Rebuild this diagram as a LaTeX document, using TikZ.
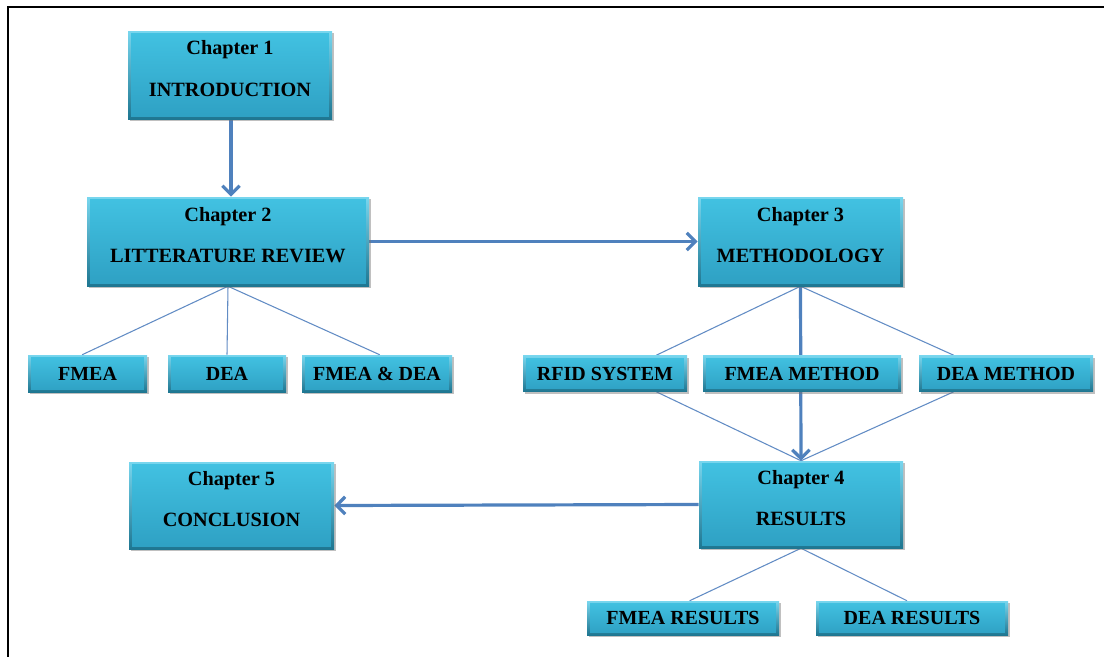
\documentclass[tikz,border=0pt]{standalone}
\usepackage{fontspec}
\setmainfont{Liberation Serif}
\usetikzlibrary{arrows.meta,shadows,backgrounds}
\definecolor{bevellight}{RGB}{120,214,238}
\definecolor{beveldark}{RGB}{30,118,145}
\definecolor{bodytop}{RGB}{66,194,226}
\definecolor{bodybot}{RGB}{46,160,195}
\definecolor{arrowblue}{RGB}{79,129,189}
\definecolor{thinblue}{RGB}{98,140,196}
\tikzset{
  cbox/.style={inner sep=0pt, align=center, text=black,
    top color=bevellight, bottom color=beveldark,
    drop shadow={shadow xshift=1.6pt, shadow yshift=-1.8pt, opacity=0.45, fill=black!55},
    path picture={\shade[top color=bodytop, bottom color=bodybot]
      ([shift={(2.4pt,-2.2pt)}]path picture bounding box.north west) rectangle
      ([shift={(-2.4pt,2.0pt)}]path picture bounding box.south east);}},
  chap/.style={cbox, font=\fontsize{15.2pt}{18pt}\selectfont\bfseries},
  sbox/.style={cbox, font=\fontsize{15pt}{17pt}\selectfont\bfseries},
  bigarrow/.style={draw=arrowblue, line width=2.4pt, -{Straight Barb[length=6.5pt,width=13pt]}},
  thinline/.style={draw=thinblue, line width=0.8pt},
  frameline/.style={draw=black, line width=1.6pt}
}
\begin{document}
\begin{tikzpicture}[x=0.75pt,y=-0.75pt]
\useasboundingbox (0,0) rectangle (1104,657);
\draw[frameline] (8,657) -- (8,7) -- (1104,7);

% chapter boxes
\node[chap, minimum width=153pt, minimum height=66pt] (c1) at (230,75)
  {Chapter 1\\[13pt]INTRODUCTION\rule[-10pt]{0pt}{0pt}};
\node[chap, minimum width=211.5pt, minimum height=66.75pt] (c2) at (228,241.5)
  {Chapter 2\\[13pt]LITTERATURE REVIEW\rule[-10pt]{0pt}{0pt}};
\node[chap, minimum width=153.75pt, minimum height=66.75pt] (c3) at (800.5,241.5)
  {Chapter 3\\[13pt]METHODOLOGY\rule[-10pt]{0pt}{0pt}};
\node[chap, minimum width=153pt, minimum height=65.25pt] (c4) at (801,504.5)
  {Chapter 4\\[13pt]RESULTS\rule[-10pt]{0pt}{0pt}};
\node[chap, minimum width=153.75pt, minimum height=65.25pt] (c5) at (231.5,505.5)
  {Chapter 5\\[13pt]CONCLUSION\rule[-10pt]{0pt}{0pt}};

% small boxes
\node[sbox, minimum width=89.25pt, minimum height=27.75pt] (fmea) at (87.5,373.5) {FMEA};
\node[sbox, minimum width=88.5pt, minimum height=27.75pt] (dea) at (227,373.5) {DEA};
\node[sbox, minimum width=112.5pt, minimum height=27.75pt] (fd) at (377,373.5) {FMEA \& DEA};
\node[sbox, minimum width=123pt, minimum height=27pt] (rfid) at (605,373.5) {RFID SYSTEM};
\node[sbox, minimum width=148.5pt, minimum height=27pt] (fm) at (802,373.5) {FMEA METHOD};
\node[sbox, minimum width=130.5pt, minimum height=27pt] (dm) at (1006,373.5) {DEA METHOD};
\node[sbox, minimum width=144pt, minimum height=25.5pt] (fr) at (683,618) {FMEA RESULTS};
\node[sbox, minimum width=144pt, minimum height=25.5pt] (dr) at (912,618) {DEA RESULTS};

\begin{scope}[on background layer]
  \draw[thinline] (c2.south) -- ([xshift=-4pt]fmea.north);
  \draw[thinline] (c2.south) -- (dea.north);
  \draw[thinline] (c2.south) -- ([xshift=2pt]fd.north);
  \draw[thinline] (c3.south) -- ([xshift=-23.25pt]rfid.north east);
  \draw[thinline] (c3.south) -- ([xshift=26.25pt]dm.north west);
  \draw[thinline] ([xshift=-23.25pt]rfid.south east) -- (c4.north);
  \draw[thinline] ([xshift=26.25pt]dm.south west) -- (c4.north);
  \draw[thinline] (c4.south) -- ([xshift=5pt]fr.north);
  \draw[thinline] (c4.south) -- ([xshift=-3.75pt]dr.north);
  \draw[bigarrow] (c1.south -| 231,0) -- (c2.north -| 231,0);
  \draw[bigarrow] (c2.east) -- (c3.west);
  \draw[bigarrow] (c3.south) -- (c4.north);
  \draw[bigarrow] (c4.west) -- (c5.east);
\end{scope}
\end{tikzpicture}
\end{document}
